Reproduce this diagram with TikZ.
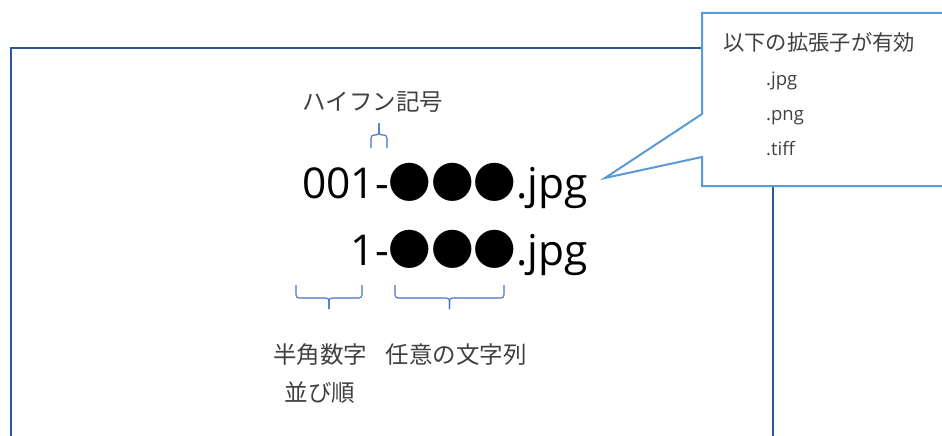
\documentclass[tikz,border=0pt]{standalone}
\usepackage{fontspec}
\setmainfont{Open Sans}
\newfontfamily\jp{Noto Sans CJK JP}
\usetikzlibrary{calc}
\definecolor{frameblue}{HTML}{2F5597}
\definecolor{callblue}{HTML}{5B9BD5}
\definecolor{braceblue}{HTML}{4472C4}
\definecolor{labelgray}{HTML}{404040}
\tikzset{
  framebox/.style={draw=frameblue, line width=2pt},
  calloutbox/.style={draw=callblue, fill=white, line width=2pt, line join=miter},
  bracemark/.style={draw=braceblue, line width=1.1pt, rounded corners=3pt},
  jlabel/.style={inner sep=0pt, text=labelgray, font=\jp\fontsize{23.5}{23.5}\selectfont},
  bigtext/.style={inner sep=0pt, font=\fontsize{42.5}{42.5}\selectfont},
  calltext/.style={inner sep=0pt, text=labelgray, anchor=base west, font=\fontsize{18.5}{18.5}\selectfont},
}
\begin{document}
\begin{tikzpicture}[x=1pt,y=-1pt]
\useasboundingbox (0,0) rectangle (942,436);
\begin{scope}
\clip (0,0) rectangle (942,436);
\draw[framebox] (11,450) -- (11,48) -- (773,48) -- (773,450);
\draw[calloutbox] (950,13) -- (702,13) -- (702,114) -- (605,178) -- (702,157) -- (702,186) -- (950,186);
\end{scope}
% callout text
\node[inner sep=0pt, text=labelgray, anchor=west, font=\jp\fontsize{21.3}{21.3}\selectfont] (ext) at (723,42) {以下の拡張子が有効};
\node[calltext] (jpg) at (766,85) {.jpg};
\node[calltext] (png) at (766,120) {.png};
\node[calltext] (tiff) at (766,155) {.tiff};
% main file names
\node[bigtext, anchor=base west] (row1) at (302,198) {001-{\jp ●●●}.jpg};
\node[bigtext, anchor=base east] (row2) at (row1.base east |- 0,265) {1-{\jp ●●●}.jpg};
% labels
\node[jlabel] (hyph) at (373,102) {ハイフン記号};
\node[jlabel] (num) at (320,355) {半角数字};
\node[jlabel] (any) at (456,355) {任意の文字列};
\node[jlabel] (order) at (320,393) {並び順};
% braces
\coordinate (h1) at (371,148);
\coordinate (h2) at (387,148);
\coordinate (n1) at (296,285);
\coordinate (n2) at (362,285);
\coordinate (a1) at (395,285);
\coordinate (a2) at (504,285);
\coordinate (hm) at ($(h1)!0.5!(h2)$);
\coordinate (nm) at ($(n1)!0.5!(n2)$);
\coordinate (am) at ($(a1)!0.5!(a2)$);
\draw[bracemark] (h1) -- ++(0,-13) -- ($(hm)+(0,-13)$) -- ($(hm)+(0,-25)$);
\draw[bracemark] (h2) -- ++(0,-13) -- ($(hm)+(0,-13)$) -- ($(hm)+(0,-25)$);
\draw[bracemark] (n1) -- ++(0,13) -- ($(nm)+(0,13)$) -- ($(nm)+(0,24)$);
\draw[bracemark] (n2) -- ++(0,13) -- ($(nm)+(0,13)$) -- ($(nm)+(0,24)$);
\draw[bracemark] (a1) -- ++(0,13) -- ($(am)+(0,13)$) -- ($(am)+(0,24)$);
\draw[bracemark] (a2) -- ++(0,13) -- ($(am)+(0,13)$) -- ($(am)+(0,24)$);
\end{tikzpicture}
\end{document}
